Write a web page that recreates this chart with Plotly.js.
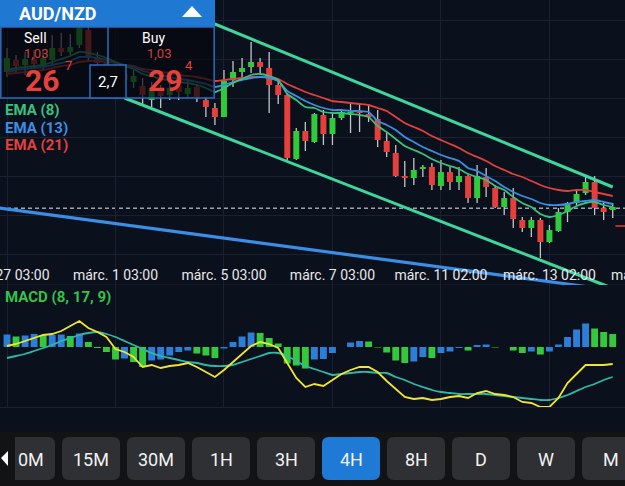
<!DOCTYPE html>
<html><head><meta charset="utf-8">
<script src="https://cdn.plot.ly/plotly-3.0.1.min.js"></script>
<style>html,body{margin:0;padding:0;background:#0b101d;overflow:hidden}#chart{width:625px;height:486px}</style>
</head><body><div id="chart"></div>
<script>
// ---------- data ----------
const tickIdx=[0,12,24,36,48,60];
const tickLabels=['febr. 27 03:00','márc. 1 03:00','márc. 5 03:00','márc. 7 03:00','márc. 11 02:00','márc. 13 02:00'];
const nextTickIdx=72, nextTickLabel='márc. 15 02:00';

const open=[1.03812,1.03860,1.03840,1.03864,1.03836,1.03860,1.03908,1.03892,1.03920,1.03980,
1.03872,1.03848,1.03820,1.03804,1.03772,1.03756,1.03700,1.03740,1.03720,1.03756,
1.03724,1.03752,1.03700,1.03668,1.03632,1.03780,1.03812,1.03832,1.03852,1.03828,
1.03760,1.03720,1.03464,1.03576,1.03532,1.03640,1.03564,1.03628,1.03648,1.03652,
1.03644,1.03624,1.03536,1.03488,1.03396,1.03388,1.03424,1.03432,1.03356,1.03412,
1.03372,1.03396,1.03308,1.03392,1.03348,1.03272,1.03308,1.03220,1.03188,1.03220,
1.03132,1.03176,1.03252,1.03288,1.03328,1.03372,1.03268,1.03260];
const high=[1.03908,1.03880,1.03892,1.03900,1.03892,1.03960,1.03968,1.03964,1.04004,1.04000,
1.03892,1.03868,1.03852,1.03836,1.03820,1.03788,1.03772,1.03760,1.03780,1.03792,
1.03780,1.03764,1.03708,1.03688,1.03820,1.03856,1.03868,1.03932,1.03868,1.03892,
1.03780,1.03728,1.03588,1.03612,1.03648,1.03660,1.03652,1.03660,1.03692,1.03688,
1.03680,1.03660,1.03572,1.03520,1.03456,1.03468,1.03440,1.03448,1.03460,1.03432,
1.03432,1.03400,1.03440,1.03428,1.03360,1.03332,1.03348,1.03232,1.03232,1.03228,
1.03200,1.03268,1.03292,1.03344,1.03392,1.03396,1.03288,1.03288];
const low=[1.03792,1.03812,1.03800,1.03828,1.03820,1.03840,1.03876,1.03880,1.03908,1.03860,
1.03820,1.03780,1.03772,1.03756,1.03748,1.03680,1.03672,1.03668,1.03700,1.03700,
1.03708,1.03692,1.03632,1.03600,1.03632,1.03752,1.03792,1.03808,1.03808,1.03648,
1.03684,1.03460,1.03460,1.03496,1.03528,1.03520,1.03520,1.03620,1.03568,1.03572,
1.03612,1.03512,1.03472,1.03392,1.03352,1.03360,1.03392,1.03340,1.03340,1.03340,
1.03340,1.03288,1.03288,1.03312,1.03268,1.03240,1.03188,1.03172,1.03152,1.03068,
1.03128,1.03172,1.03212,1.03280,1.03320,1.03240,1.03220,1.03228];
const close=[1.03868,1.03836,1.03864,1.03844,1.03868,1.03908,1.03892,1.03912,1.03988,1.03872,
1.03848,1.03820,1.03792,1.03780,1.03796,1.03720,1.03748,1.03716,1.03748,1.03732,
1.03748,1.03712,1.03672,1.03632,1.03776,1.03812,1.03828,1.03852,1.03832,1.03760,
1.03720,1.03468,1.03576,1.03536,1.03644,1.03564,1.03628,1.03652,1.03652,1.03648,
1.03632,1.03540,1.03492,1.03396,1.03388,1.03420,1.03432,1.03360,1.03412,1.03372,
1.03396,1.03308,1.03396,1.03352,1.03272,1.03308,1.03224,1.03188,1.03220,1.03132,
1.03180,1.03252,1.03288,1.03324,1.03372,1.03268,1.03252,1.03272];

const ema8=[1.03820,1.03828,1.03832,1.03836,1.03840,1.03852,1.03864,1.03876,1.03892,1.03888,
1.03880,1.03868,1.03852,1.03836,1.03824,1.03804,1.03796,1.03784,1.03780,1.03772,
1.03768,1.03760,1.03748,1.03732,1.03748,1.03768,1.03784,1.03800,1.03804,1.03796,
1.03780,1.03724,1.03700,1.03672,1.03668,1.03652,1.03648,1.03648,1.03644,1.03640,
1.03632,1.03596,1.03572,1.03544,1.03516,1.03500,1.03484,1.03464,1.03448,1.03436,
1.03424,1.03404,1.03392,1.03380,1.03356,1.03340,1.03312,1.03288,1.03272,1.03244,
1.03232,1.03240,1.03256,1.03276,1.03288,1.03292,1.03280,1.03272];
const ema13=[1.03812,1.03820,1.03824,1.03828,1.03832,1.03840,1.03848,1.03856,1.03872,1.03872,
1.03868,1.03860,1.03852,1.03840,1.03832,1.03816,1.03808,1.03800,1.03792,1.03784,
1.03780,1.03772,1.03764,1.03752,1.03760,1.03772,1.03780,1.03788,1.03792,1.03788,
1.03776,1.03736,1.03716,1.03696,1.03680,1.03668,1.03660,1.03660,1.03656,1.03656,
1.03652,1.03616,1.03600,1.03580,1.03552,1.03532,1.03512,1.03496,1.03480,1.03468,
1.03456,1.03428,1.03416,1.03396,1.03376,1.03352,1.03332,1.03316,1.03304,1.03288,
1.03280,1.03280,1.03284,1.03292,1.03296,1.03300,1.03292,1.03284];
const ema21=[1.03804,1.03808,1.03812,1.03816,1.03820,1.03828,1.03836,1.03840,1.03852,1.03856,
1.03856,1.03852,1.03848,1.03840,1.03836,1.03824,1.03820,1.03812,1.03808,1.03800,
1.03796,1.03792,1.03784,1.03776,1.03780,1.03784,1.03788,1.03792,1.03792,1.03792,
1.03784,1.03764,1.03748,1.03732,1.03720,1.03708,1.03696,1.03692,1.03688,1.03684,
1.03680,1.03668,1.03656,1.03632,1.03608,1.03592,1.03576,1.03556,1.03540,1.03524,
1.03508,1.03488,1.03472,1.03456,1.03436,1.03420,1.03404,1.03392,1.03376,1.03360,
1.03348,1.03340,1.03336,1.03340,1.03340,1.03332,1.03324,1.03316];

const macdLine=[0.00002,0.00006,0.00012,0.00018,0.00024,0.00026,0.00032,0.00042,0.00052,0.00038,
0.00030,0.00020,-0.00004,-0.00010,-0.00020,-0.00040,-0.00036,-0.00042,-0.00038,-0.00036,
-0.00032,-0.00040,-0.00050,-0.00060,-0.00046,-0.00030,-0.00014,0.00002,0.00010,0.00006,
-0.00002,-0.00032,-0.00062,-0.00080,-0.00074,-0.00078,-0.00066,-0.00054,-0.00046,-0.00040,
-0.00040,-0.00050,-0.00068,-0.00084,-0.00100,-0.00104,-0.00102,-0.00106,-0.00104,-0.00100,
-0.00098,-0.00102,-0.00092,-0.00088,-0.00094,-0.00096,-0.00100,-0.00110,-0.00112,-0.00120,
-0.00120,-0.00102,-0.00072,-0.00054,-0.00036,-0.00036,-0.00036,-0.00034];
const signalLine=[-0.00022,-0.00018,-0.00014,-0.00008,-0.00002,0.00004,0.00012,0.00018,0.00024,0.00028,
0.00030,0.00026,0.00020,0.00012,0.00004,-0.00004,-0.00012,-0.00018,-0.00022,-0.00026,
-0.00030,-0.00032,-0.00036,-0.00038,-0.00038,-0.00036,-0.00030,-0.00024,-0.00018,-0.00012,
-0.00012,-0.00018,-0.00028,-0.00038,-0.00044,-0.00050,-0.00056,-0.00054,-0.00052,-0.00050,
-0.00050,-0.00052,-0.00052,-0.00060,-0.00066,-0.00074,-0.00080,-0.00086,-0.00090,-0.00092,
-0.00094,-0.00094,-0.00094,-0.00094,-0.00096,-0.00098,-0.00100,-0.00102,-0.00104,-0.00106,
-0.00106,-0.00102,-0.00096,-0.00088,-0.00080,-0.00074,-0.00066,-0.00060];
const histValues=[0.00025,0.00021,0.00023,0.00026,0.00023,0.00024,0.00025,0.00022,0.00027,0.00010,
-0.00002,-0.00010,-0.00025,-0.00023,-0.00030,-0.00040,-0.00027,-0.00025,-0.00017,-0.00010,
-0.00007,-0.00013,-0.00017,-0.00022,-0.00003,0.00010,0.00021,0.00029,0.00028,0.00018,
0.00007,-0.00033,-0.00037,-0.00043,-0.00025,-0.00024,-0.00012,0.00000,0.00009,0.00012,
0.00011,-0.00001,-0.00011,-0.00027,-0.00032,-0.00029,-0.00020,-0.00022,-0.00012,-0.00009,
-0.00002,-0.00007,0.00004,0.00005,-0.00001,0.00000,-0.00007,-0.00012,-0.00009,-0.00015,
-0.00009,0.00005,0.00020,0.00035,0.00047,0.00037,0.00030,0.00026];

const channelUpperIdx=[21.5,67.0], channelUpperPrice=[1.04026,1.03352];
const channelLowerIdx=[13.0,66.9], channelLowerPrice=[1.03708,1.02948];
const trendIdx=[-0.8,66.9], trendPrice=[1.03268,1.02940];
const bidPrice=1.03267;
const askMarkIdx=[67.3,68.4], askMarkPrice=[1.03196,1.03196];

const symbol='AUD/NZD';
const sellBig='1,03', sellPips='26', sellFrac='7';
const buyBig='1,03', buyPips='29', buyFrac='4';
const spread='2,7';
const timeframes=['0M','15M','30M','1H','3H','4H','8H','D','W','M'];
const activeTf='4H';

// ---------- build ----------
const W=625,H=486;
const n=open.length;
const idx=open.map((_,i)=>i);
const xr=[-0.774,68.36];
const P=x=>x/W, Q=y=>1-y/H;
const FONT='Roboto, "Noto Sans", sans-serif';
const GREEN='#2fcb3b', RED='#e63e3a';
const MAIN_BOTTOM=292, SEP=285, MACD_BOTTOM=407;

const wx=[],wy=[];
for(let i=0;i<n;i++){
  const t=Math.max(open[i],close[i]), b=Math.min(open[i],close[i]);
  wx.push(i,i,null,i,i,null); wy.push(high[i],t,null,b,low[i],null);
}
const traces=[
 {type:'scatter',mode:'lines',x:wx,y:wy,line:{color:'#c4c4c4',width:1.3},hoverinfo:'skip',xaxis:'x',yaxis:'y'},
 {type:'bar',x:idx,base:idx.map(i=>Math.min(open[i],close[i])),
  y:idx.map(i=>Math.max(Math.abs(close[i]-open[i]),0.00004)),width:0.66,
  marker:{color:idx.map(i=>close[i]>=open[i]?GREEN:RED),line:{width:0}},hoverinfo:'skip',xaxis:'x',yaxis:'y'},
 {type:'scatter',mode:'lines',x:idx,y:ema21,line:{color:'#e2403c',width:1.8,shape:'spline',smoothing:0.6},xaxis:'x',yaxis:'y'},
 {type:'scatter',mode:'lines',x:idx,y:ema13,line:{color:'#3a8fe3',width:1.8,shape:'spline',smoothing:0.6},xaxis:'x',yaxis:'y'},
 {type:'scatter',mode:'lines',x:idx,y:ema8,line:{color:'#3cbf7c',width:1.8,shape:'spline',smoothing:0.6},xaxis:'x',yaxis:'y'},
 {type:'scatter',mode:'lines',x:channelUpperIdx,y:channelUpperPrice,line:{color:'#3ed69c',width:3},xaxis:'x',yaxis:'y'},
 {type:'scatter',mode:'lines',x:channelLowerIdx,y:channelLowerPrice,line:{color:'#3ed69c',width:3},xaxis:'x',yaxis:'y'},
 {type:'scatter',mode:'lines',x:trendIdx,y:trendPrice,line:{color:'#3b8de6',width:3.2},xaxis:'x',yaxis:'y'},
 {type:'scatter',mode:'lines',x:askMarkIdx,y:askMarkPrice,line:{color:'#e63e3a',width:1.5},xaxis:'x',yaxis:'y'},
 {type:'bar',x:idx,y:histValues,width:0.76,
  marker:{color:idx.map(i=>(i===0||histValues[i]>=histValues[i-1])?'#2b7fd8':'#34c83d'),line:{width:0}},hoverinfo:'skip',xaxis:'x2',yaxis:'y2'},
 {type:'scatter',mode:'lines',x:idx,y:signalLine,line:{color:'#2fb8a8',width:1.8,shape:'spline',smoothing:0.5},xaxis:'x2',yaxis:'y2'},
 {type:'scatter',mode:'lines',x:idx,y:macdLine,line:{color:'#f2e531',width:1.8},xaxis:'x2',yaxis:'y2'}
];

const shapes=[];
function rect(x0,y0,x1,y1,fill,lc,lw,layer){shapes.push({type:'rect',xref:'paper',yref:'paper',x0:P(x0),x1:P(x1),y0:Q(y1),y1:Q(y0),fillcolor:fill,line:{color:lc||'rgba(0,0,0,0)',width:lw||0},layer:layer||'above'});}
function path(pts,fill){let s='';pts.forEach((p,k)=>{s+=(k?' L':'M')+P(p[0])+','+Q(p[1]);});shapes.push({type:'path',xref:'paper',yref:'paper',path:s+' Z',fillcolor:fill,line:{width:0},layer:'above'});}
function rrect(x0,y0,x1,y1,r,fill){
  const c=(x,y)=>P(x)+','+Q(y);
  const s='M'+c(x0+r,y0)+' L'+c(x1-r,y0)+' Q'+c(x1,y0)+' '+c(x1,y0+r)+' L'+c(x1,y1-r)+' Q'+c(x1,y1)+' '+c(x1-r,y1)+
   ' L'+c(x0+r,y1)+' Q'+c(x0,y1)+' '+c(x0,y1-r)+' L'+c(x0,y0+r)+' Q'+c(x0,y0)+' '+c(x0+r,y0)+' Z';
  shapes.push({type:'path',xref:'paper',yref:'paper',path:s,fillcolor:fill,line:{width:0},layer:'above'});
}
const grid='#1b2131';
shapes.push({type:'line',xref:'paper',yref:'paper',x0:0,x1:1,y0:Q(SEP),y1:Q(SEP),line:{color:grid,width:1},layer:'below'});
shapes.push({type:'line',xref:'paper',x0:0,x1:1,yref:'y',y0:bidPrice,y1:bidPrice,line:{color:'#9ea3ab',width:1.5,dash:'4px,3px'},layer:'below'});
// quote panel
rect(0,27,215,98,'rgba(6,8,14,0.72)');
rect(0,0,215,27,'#1f78d1');
path([[182,17],[192,6],[202,17]],'#ffffff');
rect(0.8,27,214.2,98,'rgba(0,0,0,0)','#2a6cc0',1.5);
shapes.push({type:'line',xref:'paper',yref:'paper',x0:P(108),x1:P(108),y0:Q(27),y1:Q(65),line:{color:'#2a6cc0',width:1.5},layer:'above'});
rect(90,65,126,98,'rgba(6,8,14,0.9)','#2a6cc0',1.5);
// bottom bar
rect(0,432,625,486,'#121315');
const btnW=58, btnStep=65, btnX0=-3;
timeframes.forEach((t,k)=>{const x0=btnX0+k*btnStep; rrect(x0,437,x0+btnW,480,7,t===activeTf?'#1f7ad6':'#2e3034');});
rect(0,432,15,486,'#121315');
path([[1,458],[8,451],[8,466]],'#ffffff');

const ann=[];
function txt(x,y,text,size,color,opts){ann.push(Object.assign({xref:'paper',yref:'paper',x:P(x),y:Q(y),text:text,showarrow:false,
  font:{family:FONT,size:size,color:color},xanchor:'center',yanchor:'middle'},opts||{}));}
txt(17,13,'<b>'+symbol+'</b>',18,'#ffffff',{xanchor:'left'});
txt(35,38,'Sell',14,'#ffffff');
txt(36,53,sellBig,13,'#cf3f3a');
txt(42,80,'<b>'+sellPips+'</b>',30,'#e8413c');
txt(68,65,sellFrac,13,'#e8413c');
txt(153,38,'Buy',14,'#ffffff');
txt(159,53,buyBig,13,'#cf3f3a');
txt(165,80,'<b>'+buyPips+'</b>',30,'#e8413c');
txt(189,65,buyFrac,13,'#e8413c');
txt(108,82,spread,15,'#ffffff');
txt(3,110,'<b>EMA (8)</b>',15,'#37c27d',{xanchor:'left'});
txt(3,127.5,'<b>EMA (13)</b>',15,'#3a8fe3',{xanchor:'left'});
txt(3,145,'<b>EMA (21)</b>',15,'#e2403c',{xanchor:'left'});
txt(3,297,'<b>MACD (8, 17, 9)</b>',15,'#37c04a',{xanchor:'left'});
const nextPx=(nextTickIdx-xr[0])/(xr[1]-xr[0])*W;
txt(nextPx,275,nextTickLabel,14,'#e8e8e8');
timeframes.forEach((t,k)=>txt(k===0?31:btnX0+k*btnStep+btnW/2,459,t,18,'#f2f2f2'));

const layout={
  width:W,height:H,margin:{l:0,r:0,t:0,b:0},
  paper_bgcolor:'#0b101d',plot_bgcolor:'#0b101d',
  showlegend:false,barmode:'overlay',font:{family:FONT,color:'#e8e8e8'},
  xaxis:{domain:[0,1],range:xr,anchor:'y',tickmode:'array',tickvals:tickIdx,ticktext:tickLabels,
    ticklabelposition:'inside',ticklabeloverflow:'allow',ticks:'',ticklabelstandoff:6,
    tickfont:{family:FONT,size:14,color:'#e8e8e8'},showgrid:true,gridcolor:grid,gridwidth:1,
    showline:false,zeroline:false,fixedrange:true},
  yaxis:{domain:[Q(MAIN_BOTTOM),1],range:[1.0410-0.00004*MAIN_BOTTOM,1.0410],tick0:1.0324,dtick:0.00156,
    showticklabels:false,ticks:'',showgrid:true,gridcolor:grid,zeroline:false,showline:false,fixedrange:true},
  xaxis2:{matches:'x',anchor:'y2',domain:[0,1],tickmode:'array',tickvals:tickIdx,showticklabels:false,ticks:'',
    showgrid:true,gridcolor:grid,showline:true,linecolor:grid,linewidth:1,zeroline:false},
  yaxis2:{domain:[Q(MACD_BOTTOM),Q(SEP)],range:[-0.00120,0.00124],showticklabels:false,ticks:'',showgrid:false,zeroline:false,showline:false},
  shapes:shapes,annotations:ann
};
Plotly.newPlot('chart',traces,layout,{staticPlot:true,displayModeBar:false});
</script></body></html>
